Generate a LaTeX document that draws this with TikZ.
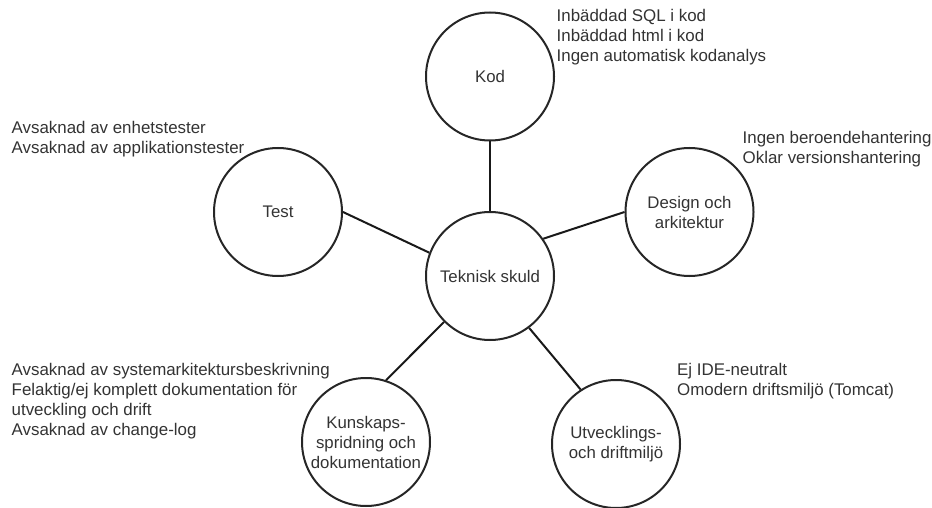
\documentclass[tikz,border=0pt]{standalone}
\usepackage{fontspec}
\setmainfont{Liberation Sans}
\begin{document}
\begin{tikzpicture}[x=1pt,y=-1pt,
  topic/.style={circle,draw=black!85,line width=2pt,minimum size=128pt,inner sep=0pt,
    align=center,text=black!80,font=\fontsize{16.8}{20}\selectfont},
  note/.style={anchor=west,align=left,inner sep=0pt,text=black!80,font=\fontsize{16.9}{20}\selectfont},
  link/.style={draw=black!90,line width=2pt}]
\useasboundingbox (0,0) rectangle (932,508);
\node[topic] (kod) at (490,76.5) {Kod};
\node[topic] (test) at (278,212) {Test};
\node[topic] (design) at (689.5,212) {Design och\\arkitektur};
\node[topic] (tek) at (490,276) {Teknisk skuld};
\node[topic] (kun) at (366,442) {Kunskaps-\\spridning och\\dokumentation};
\node[topic] (utv) at (616,444) {Utvecklings-\\och driftmilj\"o};

\node[note] (nkod) at (556.5,37) {Inb\"addad SQL i kod\\Inb\"addad html i kod\\Ingen automatisk kodanalys};
\node[note] (ntest) at (11.5,139.5) {Avsaknad av enhetstester\\Avsaknad av applikationstester};
\node[note] (ndes) at (742.5,149.5) {Ingen beroendehantering\\Oklar versionshantering};
\node[note] (nkun) at (11.5,401.5) {Avsaknad av systemarkitektursbeskrivning\\Felaktig/ej komplett dokumentation f\"or\\utveckling och drift\\Avsaknad av change-log};
\node[note] (nutv) at (677,381.5) {Ej IDE-neutralt\\Omodern driftsmilj\"o (Tomcat)};

\draw[link] (kod.270) -- (tek.90);
\draw[link] (test.0) -- (tek.159.6);
\draw[link] (design.180) -- (tek.35.4);
\draw[link] (kun.72.4) -- (tek.225.6);
\draw[link] (utv.123.7) -- (tek.307);
\end{tikzpicture}
\end{document}
